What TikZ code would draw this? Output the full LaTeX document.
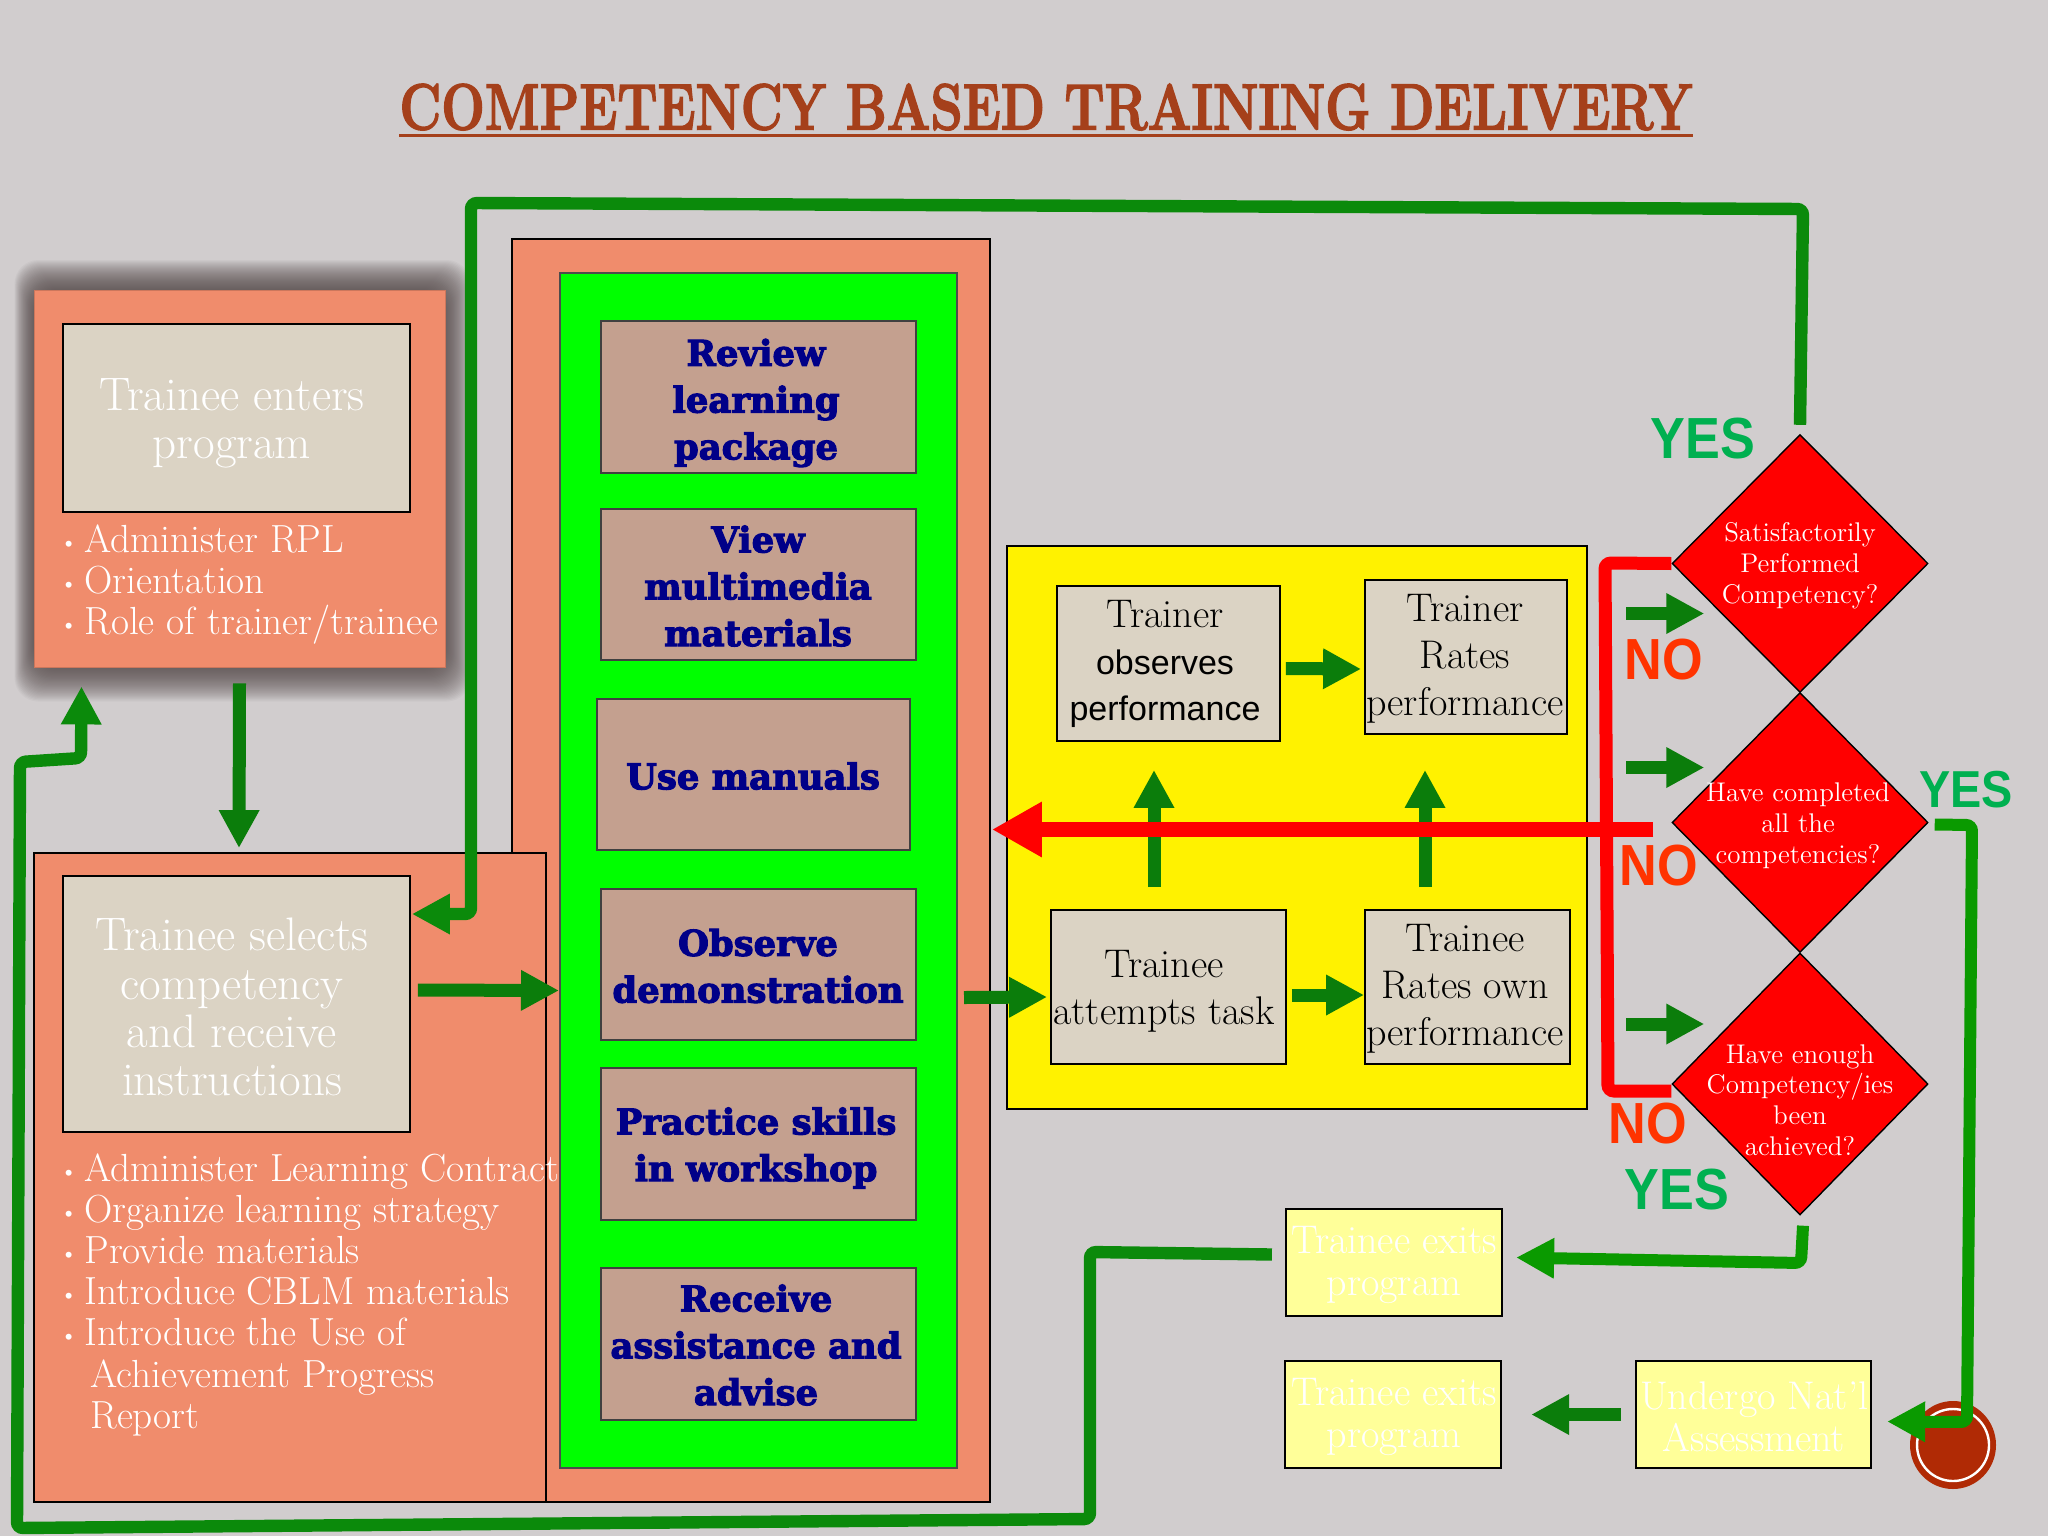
\documentclass[tikz,border=0pt]{standalone}
\usepackage{fontspec}
\usepackage{graphicx}
\newfontfamily\sansb{Liberation Sans}
\newfontfamily\heavyf{DejaVu Serif}
\usetikzlibrary{arrows.meta,shapes.geometric,calc}
\definecolor{bgc}{HTML}{D1CDCE}
\definecolor{orangeb}{HTML}{F08C6C}
\definecolor{creamb}{HTML}{DBD3C4}
\definecolor{brownb}{HTML}{C4A08F}
\definecolor{titlec}{HTML}{A5401B}
\definecolor{dgreen}{HTML}{0B7D0B}
\definecolor{mgreen}{HTML}{0A9A00}
\definecolor{lgreen}{HTML}{0B8A0B}
\definecolor{yesc}{HTML}{00B050}
\definecolor{noc}{HTML}{FF3300}
\definecolor{paley}{HTML}{FFFF99}
\definecolor{seal}{HTML}{B02A05}
\definecolor{shadowc}{HTML}{4F4343}
\definecolor{navyc}{HTML}{000088}
\newcommand{\rbox}[6]{\node[#6,anchor=center,inner sep=0pt,minimum width={(#4-#2)*0.5pt},minimum height={(#5-#3)*0.5pt}] (#1) at ({(#2+#4)/2},{(#3+#5)/2}) {};}
\newcommand{\blt}{\makebox[12pt][l]{\raisebox{1.5pt}{\fontsize{11}{11}\selectfont\textbullet}}}
\newcommand{\nrw}[1]{\scalebox{0.9}[1]{#1}}
\newcommand{\thick}[3]{\special{pdf:code 2 Tr #1 w #2 RG}#3\special{pdf:code 0 Tr 0.3985 w}}
\newcommand{\hvt}[1]{\thick{0.55}{0 0 0.533}{#1}}
\tikzset{
  x=0.5pt,y=-0.5pt,
  line join=round,
  plain/.style={draw=black,line width=0.9pt},
  orbox/.style={plain,fill=orangeb},
  cream/.style={plain,fill=creamb},
  greenb/.style={draw=black!70,line width=1pt,fill=green},
  brownn/.style={draw=black!75,line width=1.1pt,fill=brownb},
  yellowb/.style={plain,fill=yellow},
  palebox/.style={draw=black,line width=1.1pt,fill=paley},
  redd/.style={diamond,aspect=1,draw=black,line width=0.7pt,fill=red},
  wl/.style={text=white,font=\fontsize{23.5}{24.1}\selectfont,align=center},
  bl/.style={text=white,font=\fontsize{19.6}{20.6}\selectfont,align=left,inner sep=0pt,anchor=north west},
  hv/.style={font=\heavyf\bfseries\fontsize{17.7}{23.4}\selectfont,align=center,text=navyc},
  bk/.style={text=black,font=\fontsize{20}{23.4}\selectfont,align=center},
  wy/.style={text=white,font=\fontsize{20}{21}\selectfont,align=center},
  dt/.style={text=white,font=\fontsize{13.5}{15.4}\selectfont,align=center},
  yeslab/.style={text=yesc,font=\sansb\bfseries\fontsize{29}{29}\selectfont,inner sep=0pt},
  nolab/.style={text=noc,font=\sansb\bfseries\fontsize{29}{29}\selectfont,inner sep=0pt},
  arrd/.style={draw=dgreen,line width=6.5pt,-{Triangle[length=19pt,width=19pt]}},
  arrl/.style={draw=lgreen,line width=6.2pt,rounded corners=3pt,-{Triangle[length=19pt,width=19pt]}},
  arrm/.style={draw=mgreen,line width=6pt,rounded corners=3pt,-{Triangle[length=19pt,width=19pt]}},
  redline/.style={draw=red,line width=6.5pt,rounded corners=3pt},
  redarr/.style={draw=red,line width=7.5pt,-{Triangle[length=25pt,width=26pt]}}
}
\begin{document}
\begin{tikzpicture}
\useasboundingbox (0,0) rectangle (2048,1536);
\fill[bgc] (0,0) rectangle (2048,1536);

% title
\node[text=titlec,font=\bfseries\fontsize{31}{36}\selectfont,inner sep=0pt] (title) at (1046,107) {\scalebox{0.83}[1.05]{\thick{0.8}{0.647 0.251 0.106}{COMPETENCY BASED TRAINING DELIVERY}}};
\draw[titlec,line width=1.6pt] ([shift={(0,5)}]title.south west) -- ([shift={(0,5)}]title.south east);

% shadow of first box
\foreach \s in {1,...,30}{
  \fill[shadowc,opacity=0.042,rounded corners=12pt] ({34-0.65*\s},{290-1.0*\s}) rectangle ({445+0.85*\s},{667+1.15*\s});
}
\rbox{b1}{34}{290}{445}{667}{fill=orangeb,draw=orangeb!85!black,line width=0.4pt}
\rbox{b1i}{63}{324}{410}{512}{cream}
\node[wl] (b1it) at (232,423) {Trainee enters\\program};
\node[bl] (b1l) at (60,524) {\blt Administer RPL\\\blt Orientation\\\blt Role of trainer/trainee};

% main orange panels
\rbox{big}{512}{239}{990}{1502}{orbox}
\rbox{low}{34}{853}{546}{1502}{orbox}
\rbox{sel}{63}{876}{410}{1132}{cream}
\node[wl] (selt) at (232,1007) {Trainee selects\\competency\\and receive\\instructions};
\node[bl] (lowl) at (60,1153) {\blt Administer Learning Contract\\\blt Organize learning strategy\\\blt Provide materials\\\blt Introduce CBLM materials\\\blt Introduce the Use of\\\hspace*{15pt}Achievement Progress\\\hspace*{15pt}Report};

% green panel with brown boxes
\rbox{grn}{560}{273}{957}{1468}{greenb}
\rbox{s1}{601}{321}{916}{473}{brownn}
\rbox{s2}{601}{509}{916}{660}{brownn}
\rbox{s3}{597}{699}{910}{850}{brownn}
\rbox{s4}{601}{889}{916}{1040}{brownn}
\rbox{s5}{601}{1068}{916}{1220}{brownn}
\rbox{s6}{601}{1268}{916}{1420}{brownn}
\node[hv] (s1t) at (756,403) {\hvt{Review\\learning\\package}};
\node[hv] (s2t) at (758,586) {\hvt{View\\multimedia\\materials}};
\node[hv] (s3t) at (753,776) {\hvt{Use manuals}};
\node[hv] (s4t) at (758,966) {\hvt{Observe\\demonstration}};
\node[hv] (s5t) at (756,1148) {\hvt{Practice skills\\in workshop}};
\node[hv] (s6t) at (756,1345) {\hvt{Receive\\assistance and\\advise}};

% yellow panel
\rbox{yel}{1007}{546}{1587}{1109}{yellowb}
\rbox{obs}{1057}{586}{1280}{741}{cream}
\rbox{rat}{1365}{580}{1567}{734}{cream}
\rbox{att}{1051}{910}{1286}{1064}{cream}
\rbox{own}{1365}{910}{1570}{1064}{cream}
\node[bk] (obst) at (1165,664) {Trainer\\{\sansb\fontsize{17}{23}\selectfont observes}\\{\sansb\fontsize{17}{23}\selectfont performance}};
\node[bk] (ratt) at (1465,659) {Trainer\\Rates\\performance};
\node[bk] (attt) at (1164,991) {Trainee\\attempts task};
\node[bk] (ownt) at (1465,989) {Trainee\\Rates own\\performance};

% diamonds
\node[redd,minimum width=128pt,minimum height=129pt,inner sep=0pt] (d1) at (1800,563.5) {};
\node[redd,minimum width=128pt,minimum height=130pt,inner sep=0pt] (d2) at (1800,822.5) {};
\node[redd,minimum width=128pt,minimum height=131pt,inner sep=0pt] (d3) at (1800,1084) {};
\node[dt] (d1t) at (1800,566) {Satisfactorily\\Performed\\Competency?};
\node[dt] (d2t) at (1798,826) {Have completed\\all the\\competencies?};
\node[dt] (d3t) at (1800,1100) {Have enough\\Competency/ies\\been\\achieved?};

% pale boxes
\rbox{ex1}{1286}{1209}{1502}{1316}{palebox}
\rbox{ex2}{1285}{1361}{1501}{1468}{palebox}
\rbox{und}{1636}{1361}{1871}{1468}{palebox}
\node[wy] (ex1t) at (1394,1265) {Trainee exits\\program};
\node[wy] (ex2t) at (1394,1417) {Trainee exits\\program};
\node[wy] (undt) at (1754,1417) {Undergo Nat'l\\Assessment};

% seal
\node[ellipse,fill=seal,minimum width=43pt,minimum height=44pt,inner sep=0pt] (seal) at (1953,1445) {};
\node[circle,draw=white,line width=1.2pt,minimum size=36pt,inner sep=0pt] (sealr) at (1953,1445) {};

% labels
\node[yeslab] (y1) at (1703,439) {\nrw{YES}};
\node[yeslab,font=\sansb\bfseries\fontsize{26}{26}\selectfont] (y2) at (1966,790) {\nrw{YES}};
\node[yeslab] (y3) at (1677,1190) {\nrw{YES}};
\node[nolab] (n1) at (1664,660) {\nrw{NO}};
\node[nolab] (n2) at (1659,866) {\nrw{NO}};
\node[nolab] (n3) at (1648,1124) {\nrw{NO}};

% green connectors
\draw[arrd] ([shift={(0,16)}]b1.south) -- ([shift={(-51,-4)}]low.north);
\coordinate (la) at (1803,209);
\coordinate (lb) at (471,203);
\coordinate (lc) at (471,914);
\draw[arrl] ([shift={(0,-9)}]d1.north) -- (la) -- (lb) -- (lc) -- ([shift={(1,-90)}]sel.east);
\coordinate (ma) at (1090,1252);
\coordinate (mb) at (1090,1519);
\coordinate (mc) at (17,1528);
\coordinate (md) at (20,762);
\coordinate (me) at (81,758);
\draw[arrl] ([shift={(-13,-8)}]ex1.west) -- (ma) -- (mb) -- (mc) -- (md) -- (me) -- ([shift={(-158,19)}]b1.south);
\draw[arrd] ([shift={(7,-14)}]sel.east) -- ([shift={(0,120)}]grn.west);
\draw[arrd] ([shift={(6,127)}]grn.east) -- ([shift={(-3,10)}]att.west);
\draw[arrd] ([shift={(5,8)}]att.east) -- ([shift={(0,8)}]own.west);
\draw[arrd] ([shift={(5,5)}]obs.east) -- ([shift={(-3,12)}]rat.west);
\draw[arrd] ([shift={(-14.5,-22)}]att.north) -- ([shift={(-14.5,28)}]obs.south);
\draw[arrd] ([shift={(-42.5,-22)}]own.north) -- ([shift={(-41,35)}]rat.south);
\draw[arrd] ([shift={(-45,50)}]d1.west) -- ([shift={(33,50)}]d1.west);
\draw[arrd] ([shift={(-45,-55)}]d2.west) -- ([shift={(33,-55)}]d2.west);
\draw[arrd] ([shift={(-45,-60)}]d3.west) -- ([shift={(33,-60)}]d3.west);
\coordinate (pa) at (1801,1263);
\draw[arrm] ([shift={(3,10)}]d3.south) -- (pa) -- ([shift={(13,-5)}]ex1.east);
\coordinate (qa) at (1972,825);
\coordinate (qb) at (1967,1422);
\draw[arrm] ([shift={(6,2)}]d2.east) -- (qa) -- (qb) -- ([shift={(15,7)}]und.east);
\draw[arrd] ([shift={(-14,0)}]und.west) -- ([shift={(29,0)}]ex2.east);

% red connectors
\coordinate (ra) at (1605,563);
\coordinate (rb) at (1608,1091);
\draw[redline] (d1.west) -- (ra) -- (rb) -- ([shift={(0,7)}]d3.west);
\draw[redarr] ([shift={(-18,7)}]d2.west) -- ([shift={(1,-41)}]big.east);
\end{tikzpicture}
\end{document}
